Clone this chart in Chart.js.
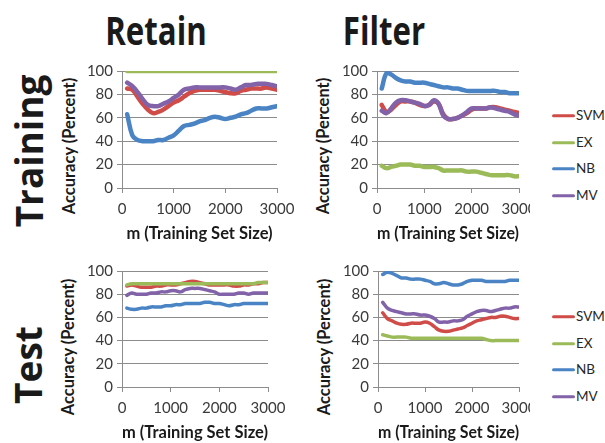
<!DOCTYPE html>
<html>
<head>
<meta charset="utf-8">
<script src="https://cdn.jsdelivr.net/npm/chart.js@4.4.0/dist/chart.umd.min.js"></script>
<style>
  html, body { margin: 0; padding: 0; background: #fff; }
  body { width: 605px; height: 443px; position: relative; overflow: hidden; font-family: Lato, "Open Sans", sans-serif; }
  canvas { position: absolute; }
  .head { position: absolute; font-family: "Open Sans", sans-serif; font-weight: 700; color: #1a1a1a; white-space: nowrap; line-height: 1; }
  .col { font-size: 39px; transform: translate(-50%, -50%) scaleX(0.80); }
  .row { font-size: 37px; transform: translate(-50%, -50%) rotate(-90deg); }
  .ytitle { position: absolute; font-family: Lato, sans-serif; font-weight: 700; font-size: 16.5px; color: #1a1a1a; white-space: nowrap; line-height: 1; transform: translate(-50%, -50%) rotate(-90deg); }
  .legend { position: absolute; font-family: Lato, sans-serif; font-size: 13.5px; color: #262626; }
  .legend div { position: absolute; left: 0; white-space: nowrap; line-height: 1; transform: translateY(-50%); }
  .legend span.sw { display: inline-block; width: 23px; height: 3px; border-radius: 1.5px; vertical-align: middle; margin-right: 1px; position: relative; top: -1px; }
</style>
</head>
<body>

<div class="head col" style="left:156px;top:29px">Retain</div>
<div class="head col" style="left:384px;top:29px">Filter</div>
<div class="head row" style="left:28px;top:151px">Training</div>
<div class="head row" style="left:27px;top:365px">Test</div>

<div class="ytitle" style="left:69px;top:146px">Accuracy (Percent)</div>
<div class="ytitle" style="left:323px;top:146px">Accuracy (Percent)</div>
<div class="ytitle" style="left:68px;top:347px">Accuracy (Percent)</div>
<div class="ytitle" style="left:324px;top:347px">Accuracy (Percent)</div>

<canvas id="retainTrain"></canvas>
<canvas id="filterTrain"></canvas>
<canvas id="retainTest"></canvas>
<canvas id="filterTest"></canvas>

<div class="legend" id="legendTrain" style="left:552px;top:0"></div>
<div class="legend" id="legendTest" style="left:552px;top:0"></div>

<script>
// training set sizes m
const sizes = [100, 200, 300, 400, 500, 600, 700, 800, 900, 1000,
               1100, 1200, 1300, 1400, 1500, 1600, 1700, 1800, 1900, 2000,
               2100, 2200, 2300, 2400, 2500, 2600, 2700, 2800, 2900, 3000];

const seriesNames = ['SVM', 'EX', 'NB', 'MV'];
const seriesColors = ['#CF4C49', '#9BBB59', '#4A84C4', '#8262A8'];

const xTicks = [0, 1000, 2000, 3000];
const yTicks = [0, 20, 40, 60, 80, 100];

// Retain / training accuracy (%)
const retainTrainSVM = [85, 84, 78, 72, 67, 64, 65, 67, 70, 73, 75, 78, 81, 83, 84, 84, 84, 84, 83, 82, 81, 81, 83, 84, 85, 85, 85, 86, 85, 84];
const retainTrainEX  = [100, 100, 100, 100, 100, 100, 100, 100, 100, 100, 100, 100, 100, 100, 100, 100, 100, 100, 100, 100, 100, 100, 100, 100, 100, 100, 100, 100, 100, 100];
const retainTrainNB  = [63, 45, 41, 40, 40, 40, 41, 41, 43, 45, 49, 53, 54, 55, 57, 58, 60, 61, 60, 59, 60, 61, 63, 64, 66, 68, 68, 68, 69, 70];
const retainTrainMV  = [90, 87, 82, 76, 71, 70, 70, 72, 74, 77, 80, 84, 85, 86, 86, 86, 86, 86, 86, 86, 85, 84, 86, 88, 88, 89, 89, 89, 88, 87];

// Filter / training accuracy (%)
const filterTrainSVM = [71, 65, 67, 71, 74, 74, 74, 73, 71, 70, 71, 74, 72, 63, 59, 59, 60, 62, 64, 67, 68, 68, 68, 69, 69, 68, 67, 66, 65, 64];
const filterTrainEX  = [19, 17, 18, 19, 20, 20, 20, 19, 19, 18, 18, 18, 17, 15, 15, 15, 15, 15, 14, 14, 14, 13, 12, 11, 11, 11, 11, 11, 10, 10];
const filterTrainNB  = [85, 98, 97, 94, 92, 91, 91, 90, 90, 90, 89, 88, 87, 86, 86, 85, 85, 84, 83, 83, 83, 83, 83, 83, 83, 82, 82, 81, 81, 81];
const filterTrainMV  = [66, 64, 68, 73, 75, 75, 74, 73, 72, 70, 71, 75, 72, 62, 59, 59, 60, 62, 65, 68, 68, 68, 68, 69, 68, 67, 66, 65, 63, 62];

// Retain / test accuracy (%)
const retainTestSVM = [87, 88, 87, 86, 86, 86, 87, 87, 88, 88, 88, 89, 90, 91, 91, 90, 89, 88, 88, 88, 88, 88, 87, 87, 88, 88, 89, 89, 90, 90];
const retainTestEX  = [88, 89, 89, 89, 89, 89, 89, 89, 89, 89, 89, 89, 89, 89, 89, 89, 89, 89, 89, 89, 89, 89, 89, 89, 89, 89, 89, 90, 90, 90];
const retainTestNB  = [68, 67, 67, 68, 68, 69, 69, 69, 70, 70, 71, 71, 72, 72, 72, 72, 73, 73, 72, 72, 71, 70, 71, 71, 72, 72, 72, 72, 72, 72];
const retainTestMV  = [79, 81, 80, 80, 80, 81, 81, 82, 82, 83, 83, 82, 84, 85, 85, 85, 84, 83, 82, 80, 80, 80, 80, 81, 81, 80, 81, 81, 81, 81];

// Filter / test accuracy (%)
const filterTestSVM = [64, 59, 57, 55, 54, 54, 55, 55, 55, 56, 55, 52, 49, 48, 48, 49, 50, 51, 53, 55, 57, 58, 59, 60, 60, 61, 61, 60, 59, 59];
const filterTestEX  = [45, 44, 43, 43, 43, 43, 42, 42, 42, 42, 42, 42, 42, 42, 42, 42, 42, 42, 42, 42, 42, 42, 41, 40, 40, 40, 40, 40, 40, 40];
const filterTestNB  = [97, 99, 98, 96, 94, 94, 93, 93, 93, 92, 91, 89, 89, 90, 89, 88, 88, 89, 91, 92, 92, 92, 91, 91, 91, 91, 91, 92, 92, 92];
const filterTestMV  = [73, 68, 66, 65, 64, 63, 63, 63, 62, 62, 61, 59, 56, 56, 56, 57, 57, 58, 61, 63, 65, 66, 66, 65, 66, 67, 68, 68, 69, 69];

const gridColor = '#8C8C8C';
const tickColor = '#3A3A3A';
const tickFont = { family: 'Lato', size: 15 };
const titleFont = { family: 'Lato', size: 16.5, weight: 'bold' };

function zeroPad(s) { s.paddingLeft = 0; s.paddingRight = 0; s.paddingTop = 0; s.paddingBottom = 0; }

function makePanel(id, box, area, lineWidth, values) {
  const cv = document.getElementById(id);
  cv.width = box.w; cv.height = box.h;
  cv.style.left = box.x + 'px'; cv.style.top = box.y + 'px';
  cv.style.width = box.w + 'px'; cv.style.height = box.h + 'px';
  const yAxisWidth = area.left - box.x;
  const xAxisHeight = box.y + box.h - area.bottom;

  const datasets = values.map((vals, i) => ({
    label: seriesNames[i],
    data: sizes.map((m, k) => ({ x: m, y: vals[k] })),
    borderColor: seriesColors[i],
    backgroundColor: seriesColors[i],
    borderWidth: lineWidth,
    pointRadius: 0,
    tension: 0.4,
    borderCapStyle: 'round',
    borderJoinStyle: 'round',
    fill: false,
    order: values.length - i   // later series drawn on top
  }));

  return new Chart(cv, {
    type: 'line',
    data: { datasets },
    options: {
      responsive: false,
      animation: false,
      devicePixelRatio: 1,
      layout: { padding: { left: 0, top: area.top - box.y, right: box.x + box.w - area.right, bottom: 0 } },
      plugins: { legend: { display: false }, tooltip: { enabled: false } },
      scales: {
        x: {
          type: 'linear', min: xTicks[0], max: xTicks[xTicks.length - 1],
          afterBuildTicks: s => { s.ticks = xTicks.map(v => ({ value: v })); },
          ticks: { font: tickFont, color: tickColor, padding: 7, maxRotation: 0, callback: v => String(v) },
          grid: { drawOnChartArea: false, drawTicks: true, tickLength: 5, color: gridColor },
          border: { color: gridColor },
          title: { display: true, text: 'm (Training Set Size)', font: titleFont, color: '#1a1a1a', padding: 0 },
          afterFit: s => { s.height = xAxisHeight; zeroPad(s); }
        },
        y: {
          type: 'linear', min: yTicks[0], max: yTicks[yTicks.length - 1],
          afterBuildTicks: s => { s.ticks = yTicks.map(v => ({ value: v })); },
          ticks: { font: tickFont, color: tickColor, padding: 4, callback: v => String(v) },
          grid: { drawTicks: true, tickLength: 5, color: gridColor },
          border: { color: gridColor },
          afterFit: s => { s.width = yAxisWidth; zeroPad(s); }
        }
      }
    }
  });
}

makePanel('retainTrain', { x: 80, y: 55, w: 225, h: 189 }, { left: 122, top: 71, right: 277, bottom: 188 }, 4.5,
          [retainTrainSVM, retainTrainEX, retainTrainNB, retainTrainMV]);
makePanel('filterTrain', { x: 335, y: 55, w: 195, h: 189 }, { left: 377, top: 71, right: 519, bottom: 188 }, 4.5,
          [filterTrainSVM, filterTrainEX, filterTrainNB, filterTrainMV]);
makePanel('retainTest', { x: 80, y: 255, w: 225, h: 188 }, { left: 122, top: 271, right: 268, bottom: 387 }, 3.5,
          [retainTestSVM, retainTestEX, retainTestNB, retainTestMV]);
makePanel('filterTest', { x: 335, y: 255, w: 195, h: 188 }, { left: 378, top: 271, right: 519, bottom: 387 }, 3.5,
          [filterTestSVM, filterTestEX, filterTestNB, filterTestMV]);

// legends, one per row
function buildLegend(id, rowsY) {
  const el = document.getElementById(id);
  seriesNames.forEach((name, i) => {
    const d = document.createElement('div');
    d.style.top = rowsY[i] + 'px';
    const sw = document.createElement('span');
    sw.className = 'sw';
    sw.style.background = seriesColors[i];
    d.appendChild(sw);
    d.appendChild(document.createTextNode(name));
    el.appendChild(d);
  });
}
buildLegend('legendTrain', [116, 143, 169, 196]);
buildLegend('legendTest', [317, 344, 370, 397]);
</script>
</body>
</html>
